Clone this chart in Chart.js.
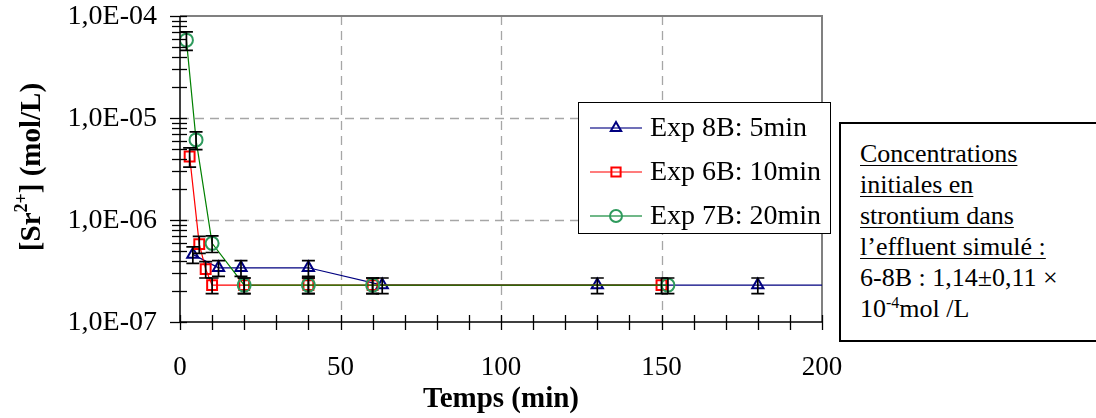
<!DOCTYPE html>
<html>
<head>
<meta charset="utf-8">
<script src="https://cdn.jsdelivr.net/npm/chart.js@4.4.0/dist/chart.umd.min.js"></script>
<style>
  html, body { margin: 0; padding: 0; background: #fff; overflow: hidden; }
  #wrap { position: relative; width: 1096px; height: 418px; }
  #note {
    position: absolute; left: 839px; top: 122px; width: 290px; height: 220px;
    box-sizing: border-box; border: 2px solid #000; background: #fff;
    padding: 14px 0 0 19px;
    font-family: "Liberation Serif", "Times New Roman", serif;
    font-size: 26px; line-height: 31px; color: #000;
  }
  #note u { text-decoration-thickness: 1px; text-underline-offset: 3px; }
  #note sup { font-size: 16px; line-height: 0; vertical-align: 9px; }
</style>
</head>
<body>
<div id="wrap">
  <canvas id="myCanvas" width="1096" height="418"></canvas>
  <div id="note">
    <u>Concentrations</u><br>
    <u>initiales en</u><br>
    <u>strontium dans</u><br>
    <u>l’effluent simulé :</u><br>
    6-8B : 1,14±0,11 ×<br>
    10<sup>-4</sup>mol /L
  </div>
</div>
<script>
'use strict';

const seriesNames = ['Exp 8B: 5min', 'Exp 6B: 10min', 'Exp 7B: 20min'];

// Exp 8B (the last point only carries the line past the end of the axis)
const exp8bTime = [4, 12, 19, 40, 63, 130, 180, 240];
const exp8bConc = [4.6e-7, 3.4e-7, 3.4e-7, 3.4e-7, 2.3e-7, 2.3e-7, 2.3e-7, 2.3e-7];
const exp8bErr = [0.85e-7, 0.6e-7, 0.6e-7, 0.6e-7, 0.4e-7, 0.4e-7, 0.4e-7, null];

// Exp 6B
const exp6bTime = [3, 6, 8, 10, 20, 40, 60, 150];
const exp6bConc = [4.2e-6, 5.8e-7, 3.3e-7, 2.3e-7, 2.3e-7, 2.3e-7, 2.3e-7, 2.3e-7];
const exp6bErr = [0.9e-6, 1.1e-7, 0.6e-7, 0.4e-7, 0.4e-7, 0.4e-7, 0.4e-7, 0.4e-7];

// Exp 7B
const exp7bTime = [2, 5, 10, 20, 40, 60, 152];
const exp7bConc = [5.8e-5, 6.1e-6, 5.9e-7, 2.3e-7, 2.3e-7, 2.3e-7, 2.3e-7];
const exp7bErr = [1.2e-5, 1.2e-6, 1.1e-7, 0.4e-7, 0.4e-7, 0.4e-7, 0.4e-7];

const xTickValues = [0, 50, 100, 150, 200];
const xTickLabels = ['0', '50', '100', '150', '200'];
const yTickValues = [1e-7, 1e-6, 1e-5, 1e-4];
const yTickLabels = ['1,0E-07', '1,0E-06', '1,0E-05', '1,0E-04'];

const serif = '"Liberation Serif", "Times New Roman", serif';

function toPoints(xs, ys) {
  let pts = [];
  for (let i = 0; i < xs.length; i++) {
    pts.push({ x: xs[i], y: ys[i] });
  }
  return pts;
}

function hideOutside(ctx, r) {
  return ctx.raw && ctx.raw.x > 200 ? 0 : r;
}

const errors = [exp8bErr, exp6bErr, exp7bErr];

const decor = {
  id: 'decor',
  beforeDatasetsDraw(chart) {
    const ctx = chart.ctx;
    const a = chart.chartArea;
    const xs = chart.scales.x;
    const ys = chart.scales.y;
    ctx.save();
    ctx.strokeStyle = '#a6a6a6';
    ctx.lineWidth = 1.3;
    ctx.setLineDash([9, 6]);
    for (let i = 1; i < yTickValues.length - 1; i++) {
      let y = Math.round(ys.getPixelForValue(yTickValues[i])) + 0.5;
      ctx.beginPath(); ctx.moveTo(a.left, y); ctx.lineTo(a.right, y); ctx.stroke();
    }
    for (let i = 1; i < xTickValues.length - 1; i++) {
      let x = Math.round(xs.getPixelForValue(xTickValues[i])) + 0.5;
      ctx.beginPath(); ctx.moveTo(x, a.top); ctx.lineTo(x, a.bottom); ctx.stroke();
    }
    ctx.setLineDash([]);
    ctx.strokeStyle = '#808080';
    ctx.lineWidth = 2;
    ctx.beginPath();
    ctx.moveTo(a.left, a.top); ctx.lineTo(a.right, a.top); ctx.lineTo(a.right, a.bottom);
    ctx.stroke();
    ctx.restore();
  },
  afterDatasetsDraw(chart) {
    const ctx = chart.ctx;
    const ys = chart.scales.y;
    ctx.save();
    ctx.strokeStyle = '#000';
    ctx.lineWidth = 1.7;
    chart.data.datasets.forEach((ds, i) => {
      const meta = chart.getDatasetMeta(i);
      ds.data.forEach((p, j) => {
        const e = errors[i][j];
        if (e == null || p.x > 200) return;
        const x = meta.data[j].x;
        const top = ys.getPixelForValue(p.y + e);
        const bot = ys.getPixelForValue(p.y - e);
        ctx.beginPath();
        ctx.moveTo(x, top); ctx.lineTo(x, bot);
        ctx.moveTo(x - 6.5, top); ctx.lineTo(x + 6.5, top);
        ctx.moveTo(x - 6.5, bot); ctx.lineTo(x + 6.5, bot);
        ctx.stroke();
      });
    });
    ctx.restore();
  },
  afterDraw(chart) {
    const ctx = chart.ctx;
    const a = chart.chartArea;
    const xs = chart.scales.x;
    const ys = chart.scales.y;
    ctx.save();
    ctx.strokeStyle = '#000';
    ctx.fillStyle = '#000';
    ctx.lineWidth = 1.5;

    // axis lines
    ctx.beginPath();
    ctx.moveTo(a.left, a.top); ctx.lineTo(a.left, a.bottom); ctx.lineTo(a.right, a.bottom);
    ctx.stroke();

    // y ticks, major and minor
    ctx.lineWidth = 1.3;
    for (let d = -7; d <= -4; d++) {
      for (let m = 1; m <= 9; m++) {
        if (d === -4 && m > 1) break;
        let y = Math.round(ys.getPixelForValue(m * Math.pow(10, d))) + 0.5;
        ctx.beginPath();
        ctx.moveTo(a.left - (m === 1 ? 10 : 8), y); ctx.lineTo(a.left + 7, y);
        ctx.stroke();
      }
    }
    // x ticks every 10
    for (let t = 0; t <= 200; t += 10) {
      let x = Math.round(xs.getPixelForValue(t)) + 0.5;
      ctx.beginPath(); ctx.moveTo(x, a.bottom - 7); ctx.lineTo(x, a.bottom + 8); ctx.stroke();
    }

    // tick labels
    ctx.font = '28px ' + serif;
    ctx.textAlign = 'right';
    ctx.textBaseline = 'middle';
    yTickValues.forEach((v, i) => {
      ctx.fillText(yTickLabels[i], 157, ys.getPixelForValue(v) + 1);
    });
    ctx.font = '27px ' + serif;
    ctx.textAlign = 'center';
    xTickValues.forEach((v, i) => {
      ctx.fillText(xTickLabels[i], xs.getPixelForValue(v), 368);
    });

    // axis titles
    ctx.font = 'bold 29px ' + serif;
    ctx.fillText('Temps (min)', (a.left + a.right) / 2, 400);

    ctx.save();
    ctx.translate(33, 167);
    ctx.rotate(-Math.PI / 2);
    ctx.textAlign = 'left';
    const parts = [['[Sr', 'bold 29px ', 0], ['2+', 'bold 18px ', -11], ['] (mol/L)', 'bold 29px ', 0]];
    let total = 0;
    parts.forEach(p => { ctx.font = p[1] + serif; total += ctx.measureText(p[0]).width; });
    let px = -total / 2;
    parts.forEach(p => {
      ctx.font = p[1] + serif;
      ctx.fillText(p[0], px, p[2]);
      px += ctx.measureText(p[0]).width;
    });
    ctx.restore();

    // legend
    ctx.fillStyle = '#fff';
    ctx.fillRect(578, 102, 252, 131);
    ctx.strokeStyle = '#000';
    ctx.lineWidth = 1;
    ctx.strokeRect(578.5, 102.5, 252, 131);
    ctx.font = '28px ' + serif;
    ctx.textAlign = 'left';
    chart.data.datasets.forEach((ds, i) => {
      const y = 128 + i * 44;
      ctx.strokeStyle = ds.legendLine;
      ctx.lineWidth = 1.5;
      ctx.beginPath(); ctx.moveTo(590, y); ctx.lineTo(642, y); ctx.stroke();
      ctx.strokeStyle = ds.pointBorderColor;
      ctx.fillStyle = 'rgba(0,0,0,0)';
      ctx.lineWidth = ds.pointBorderWidth;
      Chart.helpers.drawPoint(ctx, { pointStyle: ds.pointStyle, radius: ds.legendRadius, borderWidth: ds.pointBorderWidth, rotation: 0 }, 616, y);
      ctx.fillStyle = '#000';
      ctx.fillText(ds.label, 650, y + 1);
    });
    ctx.restore();
  }
};

const data = {
  datasets: [
    {
      label: seriesNames[0],
      data: toPoints(exp8bTime, exp8bConc),
      borderColor: '#000080',
      legendLine: '#4040a0',
      borderWidth: 1.2,
      pointStyle: 'triangle',
      pointRadius: ctx => hideOutside(ctx, 6.5),
      legendRadius: 6,
      pointBorderColor: '#000080',
      pointBackgroundColor: 'rgba(0,0,0,0)',
      pointBorderWidth: 2,
      order: 3
    },
    {
      label: seriesNames[1],
      data: toPoints(exp6bTime, exp6bConc),
      borderColor: '#ff0000',
      legendLine: '#ff5050',
      borderWidth: 1.2,
      pointStyle: 'rect',
      pointRadius: 7,
      legendRadius: 6.5,
      pointBorderColor: '#ff0000',
      pointBackgroundColor: 'rgba(0,0,0,0)',
      pointBorderWidth: 2,
      order: 2
    },
    {
      label: seriesNames[2],
      data: toPoints(exp7bTime, exp7bConc),
      borderColor: '#008000',
      legendLine: '#40a060',
      borderWidth: 1.2,
      pointStyle: 'circle',
      pointRadius: 6.5,
      legendRadius: 6,
      pointBorderColor: '#2e9a5c',
      pointBackgroundColor: 'rgba(0,0,0,0)',
      pointBorderWidth: 2,
      order: 1
    }
  ]
};

const config = {
  type: 'scatter',
  data: data,
  options: {
    responsive: false,
    devicePixelRatio: 1,
    animation: false,
    showLine: true,
    layout: { padding: { left: 180, top: 16, right: 274, bottom: 96 } },
    elements: { line: { tension: 0 } },
    scales: {
      x: { type: 'linear', min: 0, max: 200, display: false },
      y: { type: 'logarithmic', min: 1e-7, max: 1e-4, display: false }
    },
    plugins: {
      legend: { display: false },
      tooltip: { enabled: false }
    }
  },
  plugins: [decor]
};

const myChart = new Chart(document.getElementById('myCanvas'), config);
</script>
</body>
</html>
